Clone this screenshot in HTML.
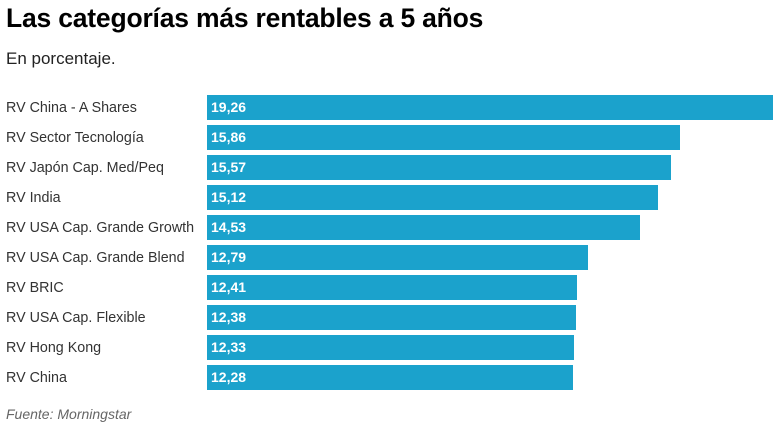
<!DOCTYPE html><html><head><meta charset="utf-8"><style>
body{margin:0;width:773px;height:430px;background:#fff;font-family:"Liberation Sans",sans-serif;position:relative;overflow:hidden}
.t{position:absolute;left:6px;top:3px;font-size:26.5px;font-weight:bold;color:#000;letter-spacing:-0.2px}
.s{position:absolute;left:6px;top:49px;font-size:17px;color:#222}
.l{position:absolute;left:6px;font-size:14.3px;color:#333;line-height:25px;margin-top:1px}
.b{position:absolute;left:207px;height:25px;background:#1ba2cc;color:#fff;font-size:14px;font-weight:bold;line-height:25px;padding-left:4px;box-sizing:border-box}
.f{position:absolute;left:6px;top:406px;font-size:14px;font-style:italic;color:#666}
</style></head><body>
<div class="t">Las categorías más rentables a 5 años</div>
<div class="s">En porcentaje.</div>
<div class="l" style="top:95px">RV China - A Shares</div><div class="b" style="top:95px;width:580px">19,26</div>
<div class="l" style="top:125px">RV Sector Tecnología</div><div class="b" style="top:125px;width:473px">15,86</div>
<div class="l" style="top:155px">RV Japón Cap. Med/Peq</div><div class="b" style="top:155px;width:464px">15,57</div>
<div class="l" style="top:185px">RV India</div><div class="b" style="top:185px;width:451px">15,12</div>
<div class="l" style="top:215px">RV USA Cap. Grande Growth</div><div class="b" style="top:215px;width:433px">14,53</div>
<div class="l" style="top:245px">RV USA Cap. Grande Blend</div><div class="b" style="top:245px;width:381px">12,79</div>
<div class="l" style="top:275px">RV BRIC</div><div class="b" style="top:275px;width:370px">12,41</div>
<div class="l" style="top:305px">RV USA Cap. Flexible</div><div class="b" style="top:305px;width:369px">12,38</div>
<div class="l" style="top:335px">RV Hong Kong</div><div class="b" style="top:335px;width:367px">12,33</div>
<div class="l" style="top:365px">RV China</div><div class="b" style="top:365px;width:366px">12,28</div>
<div class="f">Fuente: Morningstar</div>
</body></html>
